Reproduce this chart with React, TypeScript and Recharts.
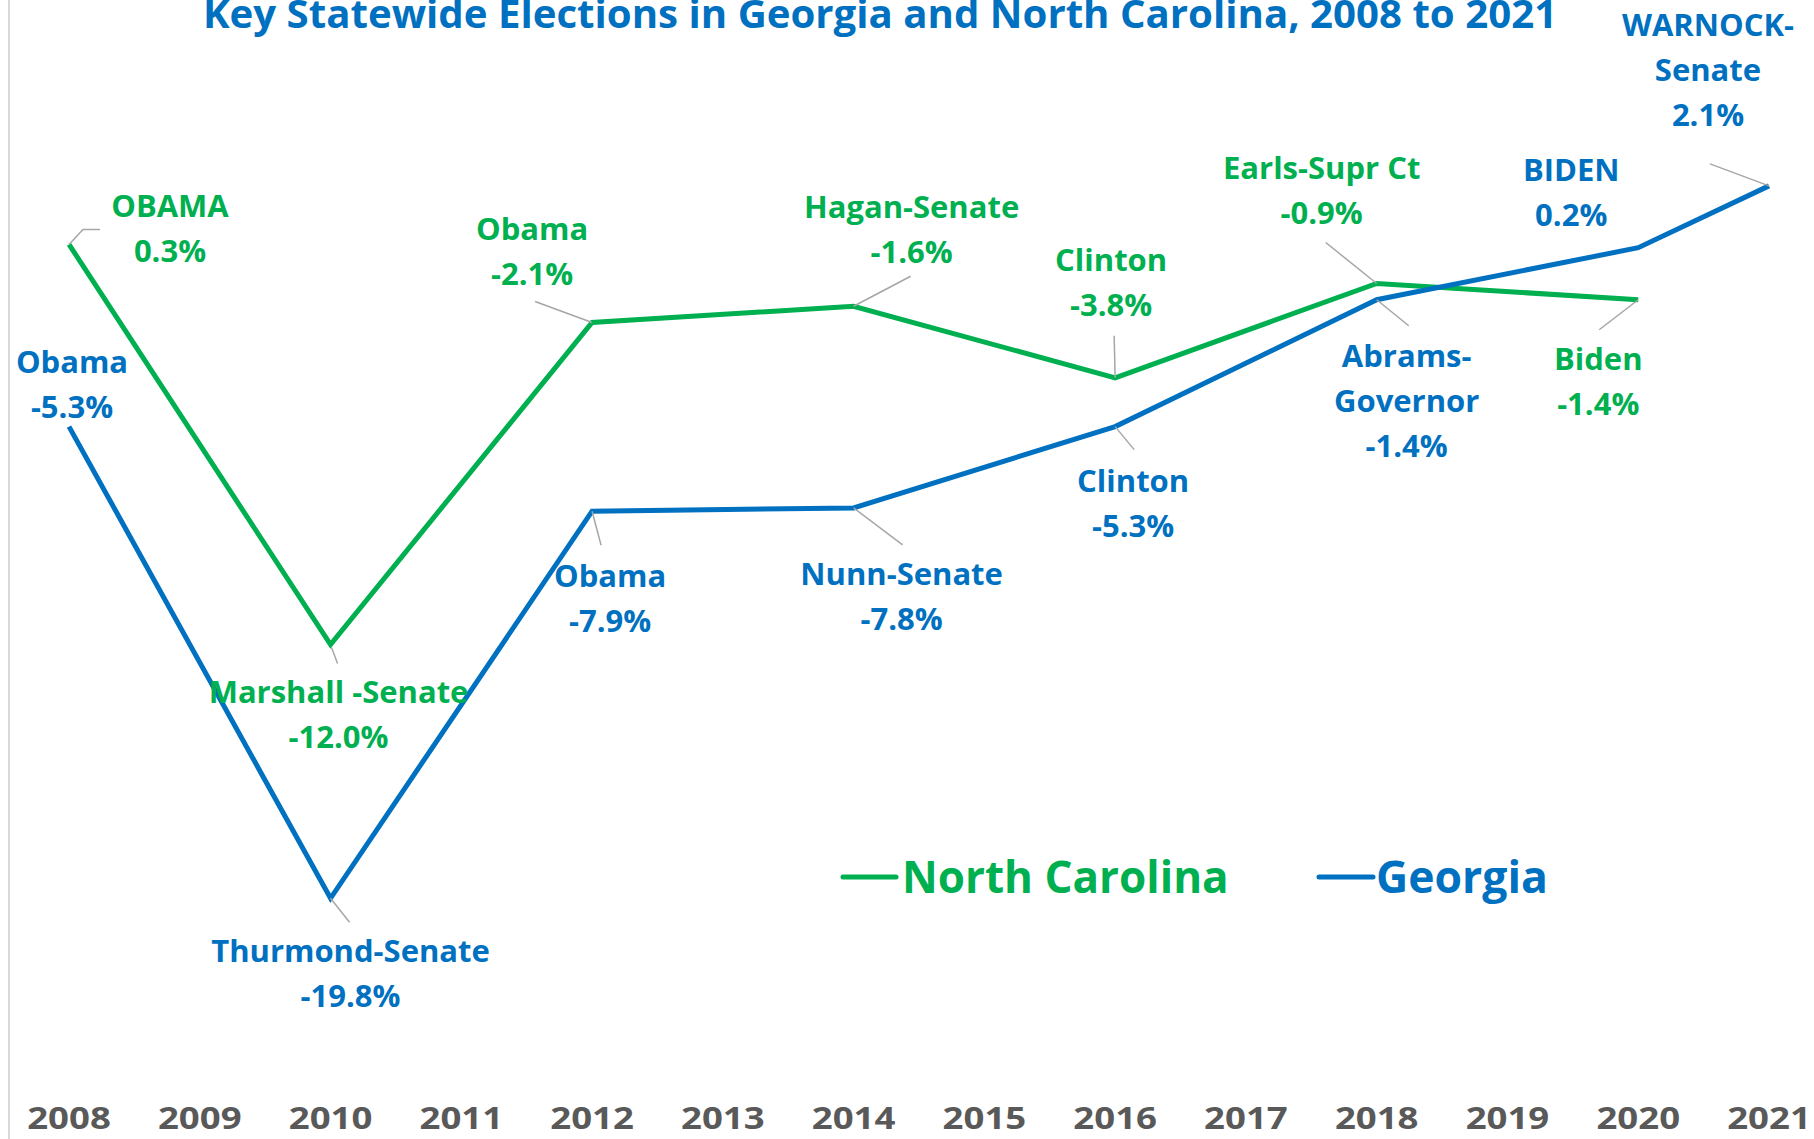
import React from 'react';
import { LineChart, Line, XAxis, YAxis, LabelList, Legend } from 'recharts';

// ---- data ----
const years = ['2008', '2009', '2010', '2011', '2012', '2013', '2014', '2015', '2016', '2017', '2018', '2019', '2020', '2021'];
const ncValues: (number | null)[] = [0.3, null, -12.0, null, -2.1, null, -1.6, null, -3.8, null, -0.9, null, -1.4, null];
const gaValues: (number | null)[] = [-5.3, null, -19.8, null, -7.9, null, -7.8, null, -5.3, null, -1.4, null, 0.2, 2.1];
const ncNames: (string | null)[] = ['OBAMA', null, 'Marshall -Senate', null, 'Obama', null, 'Hagan-Senate', null, 'Clinton', null, 'Earls-Supr Ct', null, 'Biden', null];
const gaNames: (string | null)[] = ['Obama', null, 'Thurmond-Senate', null, 'Obama', null, 'Nunn-Senate', null, 'Clinton', null, 'Abrams-\nGovernor', null, 'BIDEN', 'WARNOCK-\nSenate'];
const title = 'Key Statewide Elections in Georgia and North Carolina, 2008 to 2021';
const seriesNames = ['North Carolina', 'Georgia'];

const data = years.map((y, i) => ({ year: y, nc: ncValues[i], ga: gaValues[i] }));

// ---- styling ----
const GREEN = '#00B050';
const BLUE = '#0070C0';
const GRAY_TEXT = '#595959';
const LEADER = '#A6A6A6';
const FONT = '"Open Sans", sans-serif';
const LABEL_SIZE = 31;
const LINE_GAP = 45;

type Pos = { dx: number; dy: number; leader?: number[][] };
const ncLabelPos: Record<string, Pos> = {
  '2008': { dx: 101, dy: -27, leader: [[0, 0], [14, -15], [31, -15]] },
  '2010': { dx: 8, dy: 58, leader: [[1, 3], [7, 19]] },
  '2012': { dx: -60, dy: -83, leader: [[0, 0], [-57, -21]] },
  '2014': { dx: 58, dy: -88, leader: [[0, 0], [57, -30]] },
  '2016': { dx: -4, dy: -107, leader: [[0, 0], [-1, -42]] },
  '2018': { dx: -55, dy: -104, leader: [[0, 0], [-51, -41]] },
  '2020': { dx: -40, dy: 70, leader: [[0, 0], [-39, 30]] },
};
const gaLabelPos: Record<string, Pos> = {
  '2008': { dx: 3, dy: -54 },
  '2010': { dx: 20, dy: 64, leader: [[0, 0], [19, 24]] },
  '2012': { dx: 18, dy: 76, leader: [[0, 0], [9, 34]] },
  '2014': { dx: 48, dy: 77, leader: [[0, 0], [49, 37]] },
  '2016': { dx: 18, dy: 65, leader: [[0, 0], [19, 23]] },
  '2018': { dx: 30, dy: 67, leader: [[0, 0], [32, 26]] },
  '2020': { dx: -67, dy: -67 },
  '2021': { dx: -61, dy: -150, leader: [[0, 0], [-59, -22]] },
};

const fmt = (v: number) => `${v.toFixed(1)}%`;

const makeLabel = (names: (string | null)[], values: (number | null)[], posMap: Record<string, Pos>, color: string) =>
  (props: any) => {
    const { x, y, index } = props;
    const v = values[index];
    const name = names[index];
    const pos = posMap[years[index]];
    if (v === null || v === undefined || !name || !pos || x == null || y == null) return null;
    const lines = [...name.split('\n'), fmt(v)];
    return (
      <g>
        {pos.leader && (
          <polyline
            points={pos.leader.map(([a, b]) => `${x + a},${y + b}`).join(' ')}
            fill="none"
            stroke={LEADER}
            strokeWidth={1.5}
          />
        )}
        <text
          x={x + pos.dx}
          y={y + pos.dy}
          textAnchor="middle"
          fill={color}
          fontFamily={FONT}
          fontWeight={700}
          fontSize={LABEL_SIZE}
        >
          {lines.map((l, i) => (
            <tspan key={i} x={x + pos.dx} dy={i === 0 ? 0 : LINE_GAP}>
              {l}
            </tspan>
          ))}
        </text>
      </g>
    );
  };

const renderTick = (props: any) => {
  const { x, y, payload } = props;
  return (
    <text
      transform={`translate(${x},${y + 21}) scale(1.18,1)`}
      x={0}
      y={0}
      textAnchor="middle"
      fill={GRAY_TEXT}
      fontFamily={FONT}
      fontWeight={700}
      fontSize={31}
    >
      {payload.value}
    </text>
  );
};

const renderLegend = () => (
  <svg width={800} height={70}>
    <line x1={3} y1={37} x2={56} y2={37} stroke={GREEN} strokeWidth={5} strokeLinecap="round" />
    <text x={62} y={53} fill={GREEN} fontFamily={FONT} fontWeight={700} fontSize={44}>
      {seriesNames[0]}
    </text>
    <line x1={479} y1={37} x2={533} y2={37} stroke={BLUE} strokeWidth={5} strokeLinecap="round" />
    <text x={536} y={53} fill={BLUE} fontFamily={FONT} fontWeight={700} fontSize={44.5}>
      {seriesNames[1]}
    </text>
  </svg>
);

export default function App() {
  return (
    <div style={{ position: 'absolute', left: 0, top: 0, width: 1814, height: 1139, background: '#fff' }}>
      <LineChart width={1814} height={1139} data={data} margin={{ top: 59, right: 0, bottom: 0, left: 9 }}>
        <XAxis
          dataKey="year"
          interval={0}
          axisLine={false}
          tickLine={false}
          height={39}
          padding={{ left: 60, right: 45 }}
          tick={renderTick}
        />
        <YAxis hide domain={[-26, 6]} type="number" allowDataOverflow />
        <Line dataKey="nc" stroke={GREEN} strokeWidth={5} dot={false} connectNulls isAnimationActive={false} />
        <Line dataKey="ga" stroke={BLUE} strokeWidth={5} dot={false} connectNulls isAnimationActive={false} />
        <Line dataKey="nc" stroke="none" dot={false} activeDot={false} connectNulls isAnimationActive={false} legendType="none">
          <LabelList dataKey="nc" content={makeLabel(ncNames, ncValues, ncLabelPos, GREEN)} />
        </Line>
        <Line dataKey="ga" stroke="none" dot={false} activeDot={false} connectNulls isAnimationActive={false} legendType="none">
          <LabelList dataKey="ga" content={makeLabel(gaNames, gaValues, gaLabelPos, BLUE)} />
        </Line>
        <Legend
          layout="horizontal"
          align="center"
          verticalAlign="middle"
          content={renderLegend}
          wrapperStyle={{ left: 840, top: 840, width: 800, height: 70 }}
        />
      </LineChart>
      <svg width={1814} height={60} style={{ position: 'absolute', left: 0, top: 0, pointerEvents: 'none' }}>
        <text x={880} y={28} textAnchor="middle" fill={BLUE} fontFamily={FONT} fontWeight={700} fontSize={40.2}>
          {title}
        </text>
      </svg>
      <div style={{ position: 'absolute', left: 8, top: 0, width: 1.5, height: 1139, background: '#D9D9D9' }} />
    </div>
  );
}
